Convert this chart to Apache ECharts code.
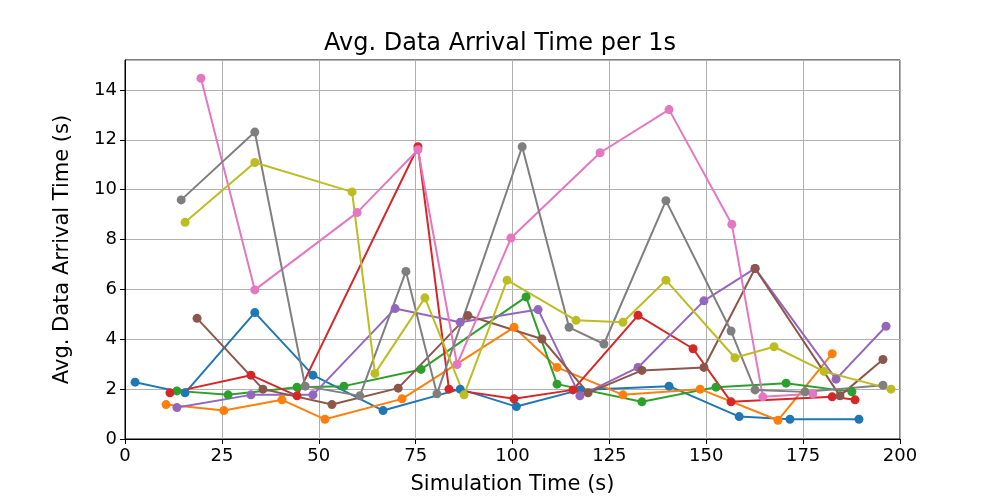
<!DOCTYPE html>
<html><head><meta charset="utf-8">
<script src="https://cdn.jsdelivr.net/npm/echarts@6/dist/echarts.min.js"></script>
<style>body{margin:0}#c{width:1000px;height:500px}</style></head>
<body><div id="c"></div>
<script>
const blue=[[2.6,2.28],[15.5,1.85],[33.5,5.07],[48.5,2.56],[66.6,1.14],[86.5,2.0],[101,1.3],[117.4,1.97],[140.4,2.12],[158.5,0.9],[171.6,0.79],[189.4,0.79]];
const orange=[[10.6,1.38],[25.5,1.14],[40.5,1.57],[51.6,0.79],[71.5,1.61],[100.4,4.48],[111.5,2.87],[128.5,1.77],[148.4,2.0],[168.5,0.75],[182.5,3.42]];
const green=[[13.4,1.93],[26.6,1.77],[44.4,2.08],[56.5,2.12],[76.4,2.79],[103.5,5.7],[111.5,2.2],[133.4,1.49],[152.5,2.08],[170.6,2.24],[187.6,1.89]];
const red=[[11.6,1.85],[32.5,2.56],[44.4,1.73],[75.6,11.72],[83.6,2.0],[100.4,1.61],[115.6,1.97],[132.4,4.96],[146.6,3.62],[156.4,1.49],[182.5,1.69],[188.4,1.57]];
const purple=[[13.4,1.26],[32.5,1.77],[48.5,1.77],[69.7,5.23],[86.5,4.68],[106.6,5.19],[117.4,1.73],[132.4,2.87],[149.4,5.54],[162.6,6.84],[183.5,2.4],[196.4,4.52]];
const brown=[[18.6,4.84],[35.6,2.0],[53.4,1.38],[70.5,2.04],[88.5,4.95],[107.6,4.01],[119.5,1.85],[133.4,2.75],[149.4,2.87],[162.6,6.84],[184.5,1.73],[195.6,3.19]];
const pink=[[19.6,14.47],[33.5,5.98],[59.9,9.08],[75.6,11.6],[85.7,2.99],[99.6,8.06],[122.6,11.48],[140.4,13.21],[156.6,8.61],[164.6,1.69],[177.5,1.81]];
const gray=[[14.5,9.59],[33.5,12.31],[46.5,2.12],[60.6,1.73],[72.5,6.72],[80.5,1.81],[102.5,11.72],[114.6,4.48],[123.6,3.81],[139.6,9.56],[156.4,4.33],[162.6,1.97],[175.5,1.89],[195.6,2.16]];
const olive=[[15.5,8.69],[33.5,11.09],[58.6,9.91],[64.5,2.63],[77.4,5.66],[87.5,1.77],[98.6,6.37],[116.4,4.76],[128.5,4.68],[139.6,6.37],[157.4,3.26],[167.5,3.7],[180.4,2.71],[197.7,2.0]];
const seriesData=[blue,orange,green,red,purple,brown,pink,gray,olive];
const colors=['#1f77b4','#ff7f0e','#2ca02c','#d62728','#9467bd','#8c564b','#e377c2','#7f7f7f','#bcbd22'];
const ff='DejaVu Sans';
const chart=echarts.init(document.getElementById('c'));
chart.setOption({
  animation:false,
  title:{text:'Avg. Data Arrival Time per 1s',left:'center',top:27,textStyle:{fontFamily:ff,fontSize:24,fontWeight:'normal',color:'#000'}},
  grid:{left:125,right:100,top:60,bottom:55,show:true,borderColor:'#000',borderWidth:1},
  xAxis:{type:'value',min:0,max:200,interval:25,name:'Simulation Time (s)',nameLocation:'middle',nameGap:35,
    nameTextStyle:{fontFamily:ff,fontSize:21,color:'#000'},
    axisLine:{lineStyle:{color:'#000'}},axisTick:{show:true,lineStyle:{color:'#000'}},
    axisLabel:{fontFamily:ff,fontSize:18,color:'#000'},splitLine:{lineStyle:{color:'#b0b0b0'}}},
  yAxis:{type:'value',min:0,max:15.2,interval:2,name:'Avg. Data Arrival Time (s)',nameLocation:'middle',nameGap:52,
    nameTextStyle:{fontFamily:ff,fontSize:21,color:'#000'},
    axisLine:{show:true,lineStyle:{color:'#000'}},axisTick:{show:true,lineStyle:{color:'#000'}},
    axisLabel:{fontFamily:ff,fontSize:18,color:'#000',showMaxLabel:false},splitLine:{lineStyle:{color:'#b0b0b0'}}},
  series:seriesData.map((d,i)=>({type:'line',data:d,color:colors[i],symbol:'circle',symbolSize:9,
    lineStyle:{width:2},itemStyle:{color:colors[i]}}))
});
</script></body></html>
